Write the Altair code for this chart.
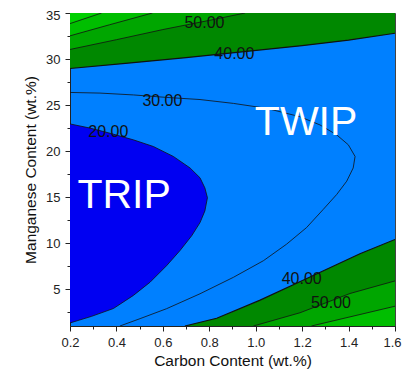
import altair as alt
import pandas as pd

# ---- data (carbon wt.%, manganese wt.%) ----
# 20 contour (TRIP boundary)
C20 = [0.2, 0.286, 0.372, 0.473, 0.559, 0.645, 0.717, 0.76, 0.781, 0.792,
       0.781, 0.76, 0.724, 0.674, 0.616, 0.545, 0.473, 0.387, 0.293, 0.2]
MN20 = [22.95, 22.5, 21.94, 21.22, 20.5, 19.42, 18.17, 17.1, 16.0, 14.93,
        13.5, 12.23, 10.8, 9.2, 7.55, 5.76, 4.32, 2.9, 2.05, 1.33]
# 30 contour
C30 = [0.2, 0.329, 0.473, 0.616, 0.76, 0.904, 1.047, 1.19, 1.277, 1.349, 1.399,
       1.428, 1.42, 1.392, 1.349, 1.291, 1.219, 1.133, 1.033, 0.904, 0.76,
       0.616, 0.502, 0.415]
MN30 = [26.37, 26.3, 26.1, 25.83, 25.6, 25.18, 24.64, 23.74, 22.84, 21.76, 20.68,
        19.42, 18.17, 16.73, 15.29, 13.67, 11.69, 9.89, 8.09, 6.29, 4.5,
        2.88, 1.8, 1.0]
# upper contours (high Mn)
C40_TOP = [0.2, 0.45, 0.7, 0.95, 1.2, 1.4, 1.6]
MN40_TOP = [28.97, 29.55, 30.15, 30.8, 31.45, 32.05, 32.8]
C50_TOP = [0.2, 0.4, 0.6, 0.8, 0.954]
MN50_TOP = [31.04, 32.1, 33.2, 34.2, 35.0]
C60_TOP = [0.2, 0.37, 0.555]
MN60_TOP = [32.52, 33.72, 35.0]
C70_TOP = [0.2, 0.336]
MN70_TOP = [33.85, 35.0]
# lower contours (high C, low Mn)
C40_BOT = [0.695, 0.832, 1.019, 1.234, 1.449, 1.6]
MN40_BOT = [1.0, 1.84, 3.81, 6.33, 8.85, 10.4]
C50_BOT = [0.99, 1.191, 1.406, 1.6]
MN50_BOT = [1.0, 2.44, 4.53, 5.9]
C60_BOT = [1.24, 1.6]
MN60_BOT = [1.0, 3.15]

# contour labels
LAB_TEXT = ["20.00", "30.00", "40.00", "50.00", "40.00", "50.00"]
LAB_C = [0.365, 0.598, 0.908, 0.779, 1.198, 1.324]
LAB_MN = [22.1, 25.47, 30.58, 33.9, 6.1, 3.5]
# region labels
REG_TEXT = ["TRIP", "TWIP"]
REG_C = [0.433, 1.217]
REG_MN = [15.1, 23.0]

X_TICKS = [0.2, 0.3, 0.4, 0.5, 0.6, 0.7, 0.8, 0.9, 1.0, 1.1, 1.2, 1.3, 1.4, 1.5, 1.6]
Y_TICKS = [2.5, 5, 7.5, 10, 12.5, 15, 17.5, 20, 22.5, 25, 27.5, 30, 32.5, 35]

C_MIN, C_MAX = 0.2, 1.6
MN_MIN, MN_MAX = 1.0, 35.0

FONT = "Liberation Sans"
LIGHT_BLUE = "#0080FF"
DARK_BLUE = "#0000F2"
GREENS = ["#008800", "#00A600", "#00BE00", "#00D000"]

xs = alt.Scale(domain=[C_MIN, C_MAX], nice=False, zero=False)
ys = alt.Scale(domain=[MN_MIN, MN_MAX], nice=False, zero=False)

ax_x = alt.Axis(
    values=X_TICKS,
    labelExpr="round(datum.value*10) % 2 == 0 ? format(datum.value, '.1f') : ''",
    tickSize={"condition": {"test": "round(datum.value*10) % 2 != 0", "value": 3}, "value": 5},
    labelOffset={"condition": {"test": "datum.value > 1.55", "value": -3}, "value": 0},
    title="Carbon Content (wt.%)", titleFont=FONT, titleFontSize=15.5,
    titleFontWeight="normal", titlePadding=4, titleColor="#111",
    labelFont=FONT, labelFontSize=13, labelColor="#222", labelPadding=5,
    labelOverlap=False, labelFlush=False, grid=False,
    domainColor="#222", tickColor="#222", tickWidth=1,
)
ax_y = alt.Axis(
    values=Y_TICKS,
    labelExpr="datum.value % 5 == 0 ? format(datum.value, 'd') : ''",
    tickSize={"condition": {"test": "datum.value % 5 != 0", "value": 3}, "value": 5},
    labelOffset={"condition": {"test": "datum.value > 34", "value": 2}, "value": 0},
    title="Manganese Content (wt.%)", titleFont=FONT, titleFontSize=15.5,
    titleFontWeight="normal", titlePadding=7, titleColor="#111",
    labelFont=FONT, labelFontSize=13, labelColor="#222", labelPadding=5,
    labelOverlap=False, labelFlush=False, grid=False,
    domainColor="#222", tickColor="#222", tickWidth=1,
)

X = lambda f: alt.X(f, type="quantitative", scale=xs, axis=ax_x)
Y = lambda f: alt.Y(f, type="quantitative", scale=ys, axis=ax_y)

# dark blue TRIP region (horizontal area from left edge to the 20 contour)
df20 = pd.DataFrame({"c": C20, "mn": MN20, "c0": C_MIN})
trip = alt.Chart(df20).mark_area(color=DARK_BLUE, orient="horizontal", clip=True).encode(
    y=Y("mn"), x=X("c"), x2="c0:Q")

def top_band(cs, ms, color):
    d = pd.DataFrame({"c": cs, "mn": ms, "top": MN_MAX})
    return alt.Chart(d).mark_area(color=color, clip=True).encode(x=X("c"), y=Y("mn"), y2="top:Q")

def bot_band(cs, ms, color):
    d = pd.DataFrame({"c": cs, "mn": ms, "bot": MN_MIN})
    return alt.Chart(d).mark_area(color=color, clip=True).encode(x=X("c"), y=Y("mn"), y2="bot:Q")

bands = [
    top_band(C40_TOP, MN40_TOP, GREENS[0]),
    top_band(C50_TOP, MN50_TOP, GREENS[1]),
    top_band(C60_TOP, MN60_TOP, GREENS[2]),
    top_band(C70_TOP, MN70_TOP, GREENS[3]),
    bot_band(C40_BOT, MN40_BOT, GREENS[0]),
    bot_band(C50_BOT, MN50_BOT, GREENS[1]),
    bot_band(C60_BOT, MN60_BOT, GREENS[2]),
]

# contour lines
rows = []
for name, cs, ms, w in [("20", C20, MN20, 0.8), ("30", C30, MN30, 0.8),
                        ("40t", C40_TOP, MN40_TOP, 1.2), ("50t", C50_TOP, MN50_TOP, 0.8),
                        ("60t", C60_TOP, MN60_TOP, 0.8), ("70t", C70_TOP, MN70_TOP, 0.8),
                        ("40b", C40_BOT, MN40_BOT, 1.2), ("50b", C50_BOT, MN50_BOT, 0.8),
                        ("60b", C60_BOT, MN60_BOT, 0.8)]:
    for i, (c, m) in enumerate(zip(cs, ms)):
        rows.append({"lvl": name, "i": i, "c": c, "mn": m, "w": w})
dl = pd.DataFrame(rows)
lines = alt.Chart(dl).mark_line(color="#111", clip=True).encode(
    x=X("c"), y=Y("mn"), detail="lvl:N", order="i:Q",
    strokeWidth=alt.StrokeWidth("w:Q", scale=None))

dlab = pd.DataFrame({"t": LAB_TEXT, "c": LAB_C, "mn": LAB_MN})
labels = alt.Chart(dlab).mark_text(font=FONT, fontSize=16, color="#111").encode(
    x=X("c"), y=Y("mn"), text="t:N")

dreg = pd.DataFrame({"t": REG_TEXT, "c": REG_C, "mn": REG_MN})
regions = alt.Chart(dreg).mark_text(font=FONT, fontSize=41, color="white").encode(
    x=X("c"), y=Y("mn"), text="t:N")

chart = alt.layer(trip, *bands, lines, labels, regions).properties(
    width=325, height=313,
    autosize=alt.AutoSizeParams(type="none"),
    padding={"left": 62, "top": 5, "right": 7, "bottom": 43},
).configure_view(fill=LIGHT_BLUE, stroke="#444", strokeWidth=1)

chart.save("out.html", embed_options={"renderer": "svg", "actions": False})
